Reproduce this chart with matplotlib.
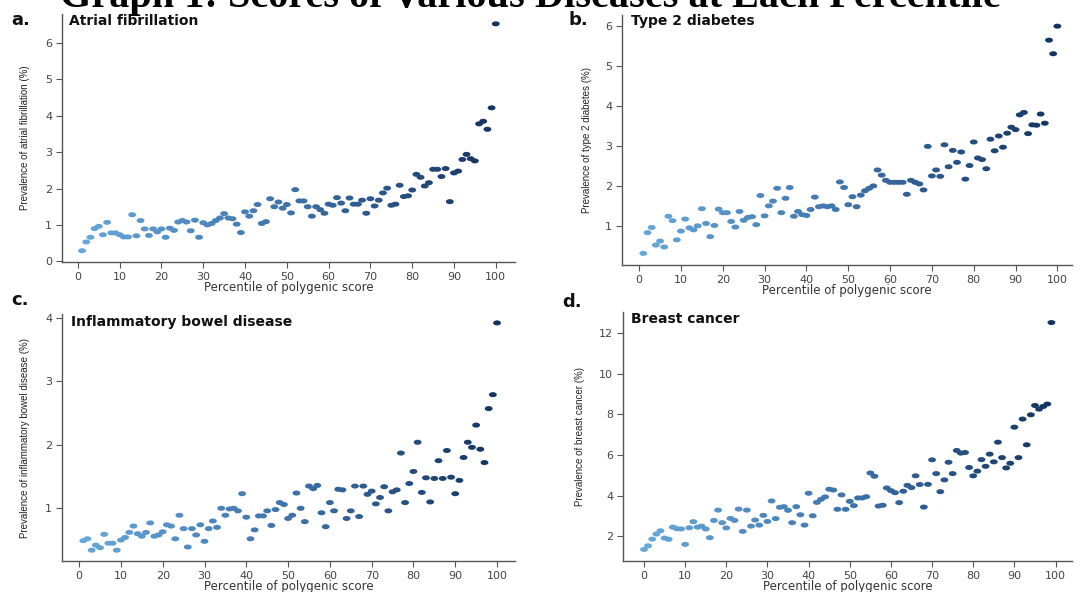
import numpy as np
import matplotlib
matplotlib.use("Agg")
import matplotlib.pyplot as plt
from matplotlib.colors import LinearSegmentedColormap
from matplotlib.path import Path
from matplotlib.transforms import Affine2D

# ---- data ----
pct_1_100 = list(range(1, 101))
pct_0_99 = list(range(0, 100))

afib = [0.29, 0.53, 0.66, 0.90, 0.96, 0.73, 1.07, 0.78, 0.78, 0.73,
        0.67, 0.67, 1.28, 0.70, 1.12, 0.89, 0.71, 0.89, 0.81, 0.89,
        0.66, 0.91, 0.85, 1.08, 1.12, 1.08, 0.84, 1.13, 0.66, 1.06,
        1.00, 1.04, 1.12, 1.19, 1.31, 1.19, 1.17, 1.02, 0.79, 1.36,
        1.24, 1.39, 1.56, 1.04, 1.09, 1.72, 1.50, 1.63, 1.46, 1.56,
        1.33, 1.97, 1.66, 1.66, 1.50, 1.24, 1.50, 1.42, 1.32, 1.57,
        1.54, 1.75, 1.60, 1.39, 1.74, 1.57, 1.57, 1.68, 1.32, 1.72,
        1.52, 1.68, 1.88, 2.01, 1.54, 1.57, 2.09, 1.78, 1.80, 1.96,
        2.39, 2.31, 2.07, 2.16, 2.53, 2.53, 2.33, 2.55, 1.64, 2.43,
        2.48, 2.80, 2.94, 2.82, 2.76, 3.78, 3.85, 3.63, 4.22, 6.53]

t2d = [0.31, 0.83, 0.96, 0.52, 0.62, 0.47, 1.24, 1.13, 0.65, 0.87,
       1.17, 0.95, 0.90, 1.00, 1.43, 1.06, 0.73, 1.01, 1.42, 1.33,
       1.33, 1.11, 0.97, 1.36, 1.14, 1.21, 1.23, 1.03, 1.76, 1.25,
       1.50, 1.62, 1.94, 1.33, 1.69, 1.96, 1.24, 1.36, 1.28, 1.26,
       1.41, 1.72, 1.48, 1.50, 1.48, 1.50, 1.41, 2.10, 1.96, 1.53,
       1.73, 1.48, 1.77, 1.88, 1.94, 2.00, 2.40, 2.27, 2.14, 2.09,
       2.09, 2.09, 2.09, 1.79, 2.14, 2.09, 2.05, 1.90, 2.99, 2.25,
       2.40, 2.24, 3.03, 2.48, 2.89, 2.59, 2.85, 2.17, 2.51, 3.10,
       2.70, 2.66, 2.43, 3.17, 2.88, 3.25, 2.97, 3.32, 3.47, 3.41,
       3.78, 3.84, 3.31, 3.53, 3.52, 3.80, 3.57, 5.65, 5.31, 6.00]

ibd = [0.49, 0.52, 0.34, 0.42, 0.38, 0.59, 0.45, 0.45, 0.34, 0.50,
       0.54, 0.62, 0.72, 0.60, 0.56, 0.62, 0.77, 0.56, 0.58, 0.63,
       0.74, 0.72, 0.52, 0.89, 0.68, 0.39, 0.68, 0.58, 0.74, 0.48,
       0.68, 0.80, 0.70, 1.00, 0.89, 0.99, 1.00, 0.96, 1.23, 0.86,
       0.52, 0.66, 0.88, 0.88, 0.96, 0.73, 0.98, 1.09, 1.06, 0.84,
       0.89, 1.24, 1.00, 0.79, 1.35, 1.31, 1.36, 0.93, 0.71, 1.09,
       0.96, 1.30, 1.29, 0.84, 0.96, 1.35, 0.87, 1.35, 1.22, 1.27,
       1.07, 1.17, 1.34, 0.96, 1.26, 1.29, 1.87, 1.09, 1.39, 1.58,
       2.04, 1.25, 1.48, 1.10, 1.47, 1.75, 1.47, 1.91, 1.49, 1.23,
       1.44, 1.80, 2.04, 1.96, 2.31, 1.93, 1.72, 2.57, 2.79, 3.92]

breast = [1.34, 1.52, 1.85, 2.10, 2.26, 1.90, 1.84, 2.44, 2.36, 2.35,
          1.59, 2.41, 2.71, 2.44, 2.49, 2.35, 1.92, 2.77, 3.28, 2.66,
          2.40, 2.87, 2.77, 3.33, 2.23, 3.28, 2.49, 2.79, 2.54, 3.02,
          2.72, 3.73, 2.86, 3.42, 3.45, 3.27, 2.66, 3.45, 3.05, 2.54,
          4.11, 3.00, 3.66, 3.81, 3.93, 4.31, 4.27, 3.32, 4.03, 3.32,
          3.71, 3.50, 3.88, 3.88, 3.94, 5.11, 4.95, 3.48, 3.52, 4.37,
          4.24, 4.14, 3.65, 4.21, 4.50, 4.39, 4.97, 4.54, 3.43, 4.55,
          5.76, 5.08, 4.19, 4.77, 5.64, 5.08, 6.22, 6.09, 6.12, 5.38,
          4.97, 5.20, 5.77, 5.44, 6.04, 5.66, 6.63, 5.87, 5.36, 5.59,
          7.37, 5.87, 7.77, 6.50, 7.98, 8.44, 8.26, 8.39, 8.51, 12.53]

panel_letters = ["a.", "b.", "c.", "d."]
panel_titles = ["Atrial fibrillation", "Type 2 diabetes",
                "Inflammatory bowel disease", "Breast cancer"]
y_labels = ["Prevalence of atrial fibrillation (%)",
            "Prevalence of type 2 diabetes (%)",
            "Prevalence of inflammatory bowel disease (%)",
            "Prevalence of breast cancer (%)"]
y_ticks = [[0, 1, 2, 3, 4, 5, 6], [1, 2, 3, 4, 5, 6], [1, 2, 3, 4], [2, 4, 6, 8, 10, 12]]
x_ticks = list(range(0, 101, 10))
x_label = "Percentile of polygenic score"
heading = "Graph 1: Scores of Various Diseases at Each Percentile"

W, H = 1089, 592
TICK_COLOR = "#555555"
cmap = LinearSegmentedColormap.from_list("pgs", ["#66a8da", "#3d72aa", "#13335f"])

# flattened ellipse marker, the reference dots are stretched horizontally
ellipse = Path.unit_circle().transformed(Affine2D().scale(1.0, 0.64))


def px_box(left, top, right, bottom):
    return [left / W, 1 - bottom / H, (right - left) / W, (bottom - top) / H]


def draw_panel(fig, box, xs, ys, xlim, ylim, idx, letter_xy, title_xy, ylab_x, xlab_y):
    left, top, right, bottom = box
    ax = fig.add_axes(px_box(*box))
    ax.scatter(xs, ys, c=np.asarray(xs) / 100, cmap=cmap, vmin=0, vmax=1,
               s=32, marker=ellipse, linewidths=0, zorder=3)
    ax.set_xlim(*xlim)
    ax.set_ylim(*ylim)
    ax.set_xticks(x_ticks)
    ax.set_yticks(y_ticks[idx])
    for s in ["top", "right"]:
        ax.spines[s].set_visible(False)
    for s in ["left", "bottom"]:
        ax.spines[s].set_color(TICK_COLOR)
        ax.spines[s].set_linewidth(1.0)
    ax.tick_params(length=4, width=0.8, color=TICK_COLOR, labelcolor="#444444",
                   labelsize=8, pad=3)
    ax.set_xlabel(x_label, fontsize=8.5, color="#333333")
    ax.set_ylabel(y_labels[idx], fontsize=7, color="#222222",
                  family=["Liberation Sans Narrow", "Liberation Sans"])
    # label positions in pixels, converted to axes fractions
    ax.yaxis.set_label_coords((ylab_x - left) / (right - left), 0.5)
    ax.xaxis.set_label_coords(0.5, -(xlab_y - bottom) / (bottom - top))
    fig.text(title_xy[0] / W, 1 - title_xy[1] / H, panel_titles[idx],
             fontsize=10, fontweight="bold", color="#111111", va="center")
    fig.text(letter_xy[0] / W, 1 - letter_xy[1] / H, panel_letters[idx],
             fontsize=13, fontweight="bold", color="#111111", va="center")
    return ax


fig = plt.figure(figsize=(W / 100, H / 100), dpi=100)

draw_panel(fig, (62, 14, 515, 262), pct_1_100, afib, (-3.8, 104.6), (-0.02, 6.8), 0,
           (11, 20), (69, 21), 30, 281)
draw_panel(fig, (622, 15, 1072, 265), pct_1_100, t2d, (-4.1, 103.5), (0.02, 6.28), 1,
           (569, 20), (631, 21), 592, 284)
draw_panel(fig, (62, 314, 515, 561), pct_1_100, ibd, (-4.1, 104.3), (0.17, 4.06), 2,
           (11, 300), (71, 322), 30, 580)
draw_panel(fig, (623, 312, 1072, 561), pct_0_99, breast, (-5.1, 104.0), (0.77, 13.05), 3,
           (562, 302), (631, 319), 585, 580)

# heading of the page, clipped by the top edge in the reference
fig.text(60 / W, 1 - 7 / H, heading, fontsize=29, fontweight="bold",
         family=["Liberation Serif", "DejaVu Serif"], color="black", va="baseline")

fig.savefig("out.png", dpi=100)
